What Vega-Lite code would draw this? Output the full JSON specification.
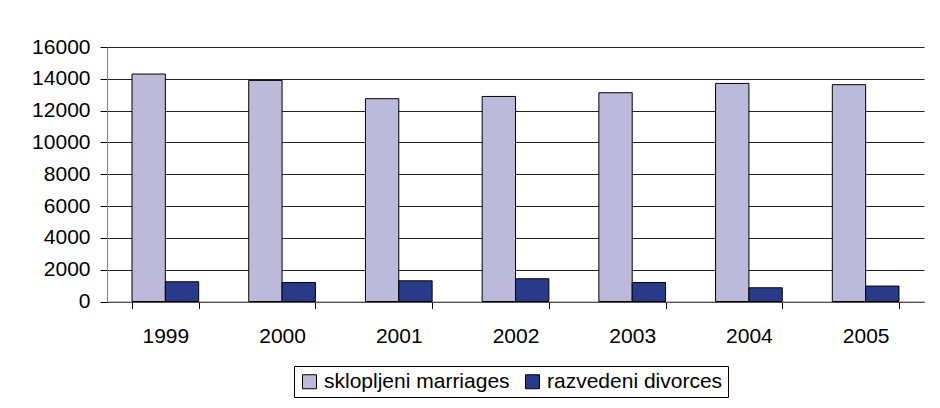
{
  "$schema": "https://vega.github.io/schema/vega-lite/v6.json",
  "width": 817,
  "height": 254.5,
  "autosize": {"type": "none"},
  "padding": {"left": 107, "top": 47, "right": 16, "bottom": 106},
  "background": "white",
  "data": {
    "values": [
      {"year": "1999", "series": "sklopljeni marriages", "value": 14300},
      {"year": "1999", "series": "razvedeni divorces", "value": 1240},
      {"year": "2000", "series": "sklopljeni marriages", "value": 13900},
      {"year": "2000", "series": "razvedeni divorces", "value": 1195},
      {"year": "2001", "series": "sklopljeni marriages", "value": 12750},
      {"year": "2001", "series": "razvedeni divorces", "value": 1300},
      {"year": "2002", "series": "sklopljeni marriages", "value": 12890},
      {"year": "2002", "series": "razvedeni divorces", "value": 1430},
      {"year": "2003", "series": "sklopljeni marriages", "value": 13125},
      {"year": "2003", "series": "razvedeni divorces", "value": 1195},
      {"year": "2004", "series": "sklopljeni marriages", "value": 13710},
      {"year": "2004", "series": "razvedeni divorces", "value": 862},
      {"year": "2005", "series": "sklopljeni marriages", "value": 13630},
      {"year": "2005", "series": "razvedeni divorces", "value": 970}
    ]
  },
  "mark": {"type": "bar", "stroke": "black", "strokeWidth": 1},
  "encoding": {
    "x": {
      "field": "year",
      "type": "ordinal",
      "title": null,
      "scale": {"paddingInner": 0.4286, "paddingOuter": 0.2143},
      "axis": {
        "labelAngle": 0,
        "labelFontSize": 21,
        "labelColor": "black",
        "labelPadding": 17,
        "tickSize": 7,
        "tickColor": "black",
        "tickBand": "extent",
        "domainColor": "#808080",
        "domainWidth": 1,
        "grid": false
      }
    },
    "xOffset": {
      "field": "series",
      "type": "nominal",
      "sort": ["sklopljeni marriages", "razvedeni divorces"],
      "scale": {"paddingInner": 0, "paddingOuter": 0}
    },
    "y": {
      "field": "value",
      "type": "quantitative",
      "title": null,
      "scale": {"domain": [0, 16000], "nice": false},
      "axis": {
        "values": [0, 2000, 4000, 6000, 8000, 10000, 12000, 14000, 16000],
        "format": "d",
        "labelFontSize": 21,
        "labelColor": "black",
        "labelPadding": 10,
        "tickSize": 7,
        "tickColor": "black",
        "domainColor": "#808080",
        "grid": true,
        "gridColor": "#222222",
        "gridWidth": 1
      }
    },
    "color": {
      "field": "series",
      "type": "nominal",
      "sort": ["sklopljeni marriages", "razvedeni divorces"],
      "scale": {
        "domain": ["sklopljeni marriages", "razvedeni divorces"],
        "range": ["#bcb9da", "#283a89"]
      },
      "legend": {
        "title": null,
        "orient": "none",
        "legendX": 187,
        "legendY": 319,
        "direction": "horizontal",
        "labelFontSize": 21,
        "labelColor": "black",
        "labelLimit": 0,
        "symbolType": "square",
        "symbolSize": 196,
        "symbolStrokeColor": "black",
        "symbolStrokeWidth": 1,
        "labelOffset": 4,
        "columnPadding": 12,
        "strokeColor": "black",
        "padding": 5
      }
    }
  },
  "config": {
    "view": {"stroke": null},
    "font": "Liberation Sans"
  }
}
